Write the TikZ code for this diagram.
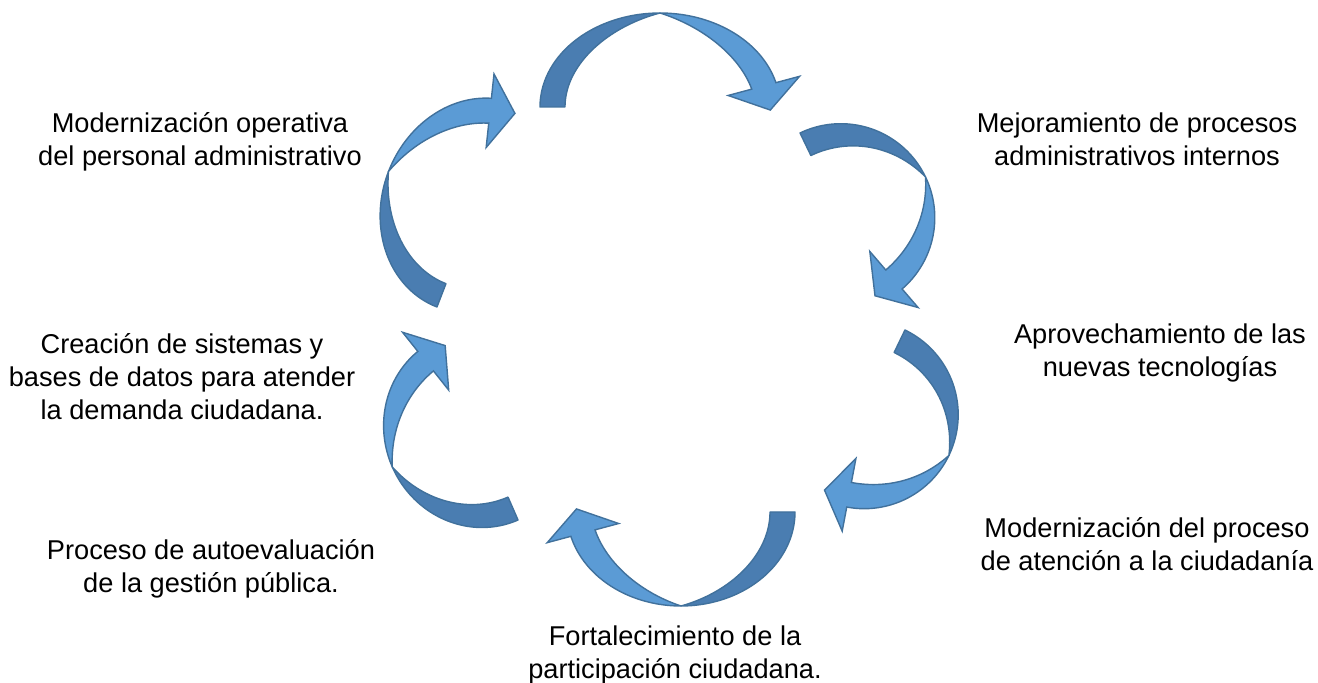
\documentclass[tikz,border=0pt]{standalone}
\usepackage{fontspec}
\setmainfont{Liberation Sans}
\definecolor{lightblue}{HTML}{5B9BD5}
\definecolor{darkblue}{HTML}{4A7DB1}
\definecolor{edgeblue}{HTML}{41719C}
\tikzset{
  darkband/.style={fill=darkblue,draw=edgeblue,line width=0.7pt,line join=round},
  lightband/.style={fill=lightblue,draw=edgeblue,line width=0.7pt,line join=miter},
  label/.style={align=center,inner sep=0pt,font=\fontsize{13.6}{16.5}\selectfont}
}
% #1 cx, #2 cy, #3 rotation, #4 a, #5 b, #6 end angle
\newcommand\twarrow[6]{%
\begingroup
\pgfmathsetmacro\rc{cos(#3)}%
\pgfmathsetmacro\rs{sin(#3)}%
\def\W{25}%
\pgfmathsetmacro\pox{#4*cos(#6)}\pgfmathsetmacro\poy{#5*sin(#6)}%
\pgfmathsetmacro\pix{(#4-\W)*cos(#6)}\pgfmathsetmacro\piy{(#5-\W)*sin(#6)}%
\pgfmathsetmacro\mx{(\pox+\pix)/2}\pgfmathsetmacro\my{(\poy+\piy)/2}%
\pgfmathsetmacro\nl{veclen(\pox-\pix,\poy-\piy)}%
\pgfmathsetmacro\nx{(\pox-\pix)/\nl}\pgfmathsetmacro\ny{(\poy-\piy)/\nl}%
\pgfmathsetmacro\cox{\mx+37*\nx}\pgfmathsetmacro\coy{\my+37*\ny}%
\pgfmathsetmacro\cix{\mx-37*\nx}\pgfmathsetmacro\ciy{\my-37*\ny}%
\pgfmathsetmacro\tx{\mx-25*\ny}\pgfmathsetmacro\ty{\my+25*\nx}%
\coordinate (Co) at ({#1+(\cox)*(\rc)-(\coy)*(\rs)},{#2+(\cox)*(\rs)+(\coy)*(\rc)});
\coordinate (Ci) at ({#1+(\cix)*(\rc)-(\ciy)*(\rs)},{#2+(\cix)*(\rs)+(\ciy)*(\rc)});
\coordinate (Tp) at ({#1+(\tx)*(\rc)-(\ty)*(\rs)},{#2+(\tx)*(\rs)+(\ty)*(\rc)});
\filldraw[darkband]
  plot[domain=180:270,samples=60,smooth] ({#1+#4*cos(\x)*(\rc)-#5*sin(\x)*(\rs)},{#2+#4*cos(\x)*(\rs)+#5*sin(\x)*(\rc)})
  -- plot[domain=270:180,samples=60,smooth] ({#1+(#4-\W*(1-((\x-180)/90)^2))*cos(\x)*(\rc)-(#5-\W*(1-((\x-180)/90)^2))*sin(\x)*(\rs)},{#2+(#4-\W*(1-((\x-180)/90)^2))*cos(\x)*(\rs)+(#5-\W*(1-((\x-180)/90)^2))*sin(\x)*(\rc)})
  -- cycle;
\filldraw[lightband]
  plot[domain=270:#6,samples=60,smooth] ({#1+#4*cos(\x)*(\rc)-#5*sin(\x)*(\rs)},{#2+#4*cos(\x)*(\rs)+#5*sin(\x)*(\rc)})
  -- (Co) -- (Tp) -- (Ci)
  -- plot[domain=#6:270,samples=60,smooth] ({#1+(#4-\W*(1-((#6-\x)/(#6-270))^2))*cos(\x)*(\rc)-(#5-\W*(1-((#6-\x)/(#6-270))^2))*sin(\x)*(\rs)},{#2+(#4-\W*(1-((#6-\x)/(#6-270))^2))*cos(\x)*(\rs)+(#5-\W*(1-((#6-\x)/(#6-270))^2))*sin(\x)*(\rc)})
  -- cycle;
\endgroup}
\begin{document}
\begin{tikzpicture}[x=0.5pt,y=-0.5pt]
\useasboundingbox (0,0) rectangle (1318,683);
% arrows
\twarrow{660}{107}{0}{120}{94}{345}
\twarrow{840.8}{217.7}{64.3}{94}{94}{345}
\twarrow{864.2}{414.7}{115.7}{94}{94}{345}
\twarrow{681}{512}{180}{114}{94}{345}
\twarrow{478.4}{429.3}{246.4}{99}{94}{345}
\twarrow{476.2}{205.3}{291.1}{109}{94}{345}
% labels
\node[label] (t1) at (200,142) {Modernización operativa\\del personal administrativo};
\node[label] (t2) at (1137,139) {Mejoramiento de procesos\\administrativos internos};
\node[label] (t3) at (1160,353) {Aprovechamiento de las\\nuevas tecnologías};
\node[label] (t4) at (1147,544) {Modernización del proceso\\de atención a la ciudadanía};
\node[label] (t5) at (675,655) {Fortalecimiento de la\\participación ciudadana.};
\node[label] (t6) at (211,569) {Proceso de autoevaluación\\de la gestión pública.};
\node[label] (t7) at (182,377) {Creación de sistemas y\\bases de datos para atender\\la demanda ciudadana.};
\end{tikzpicture}
\end{document}
